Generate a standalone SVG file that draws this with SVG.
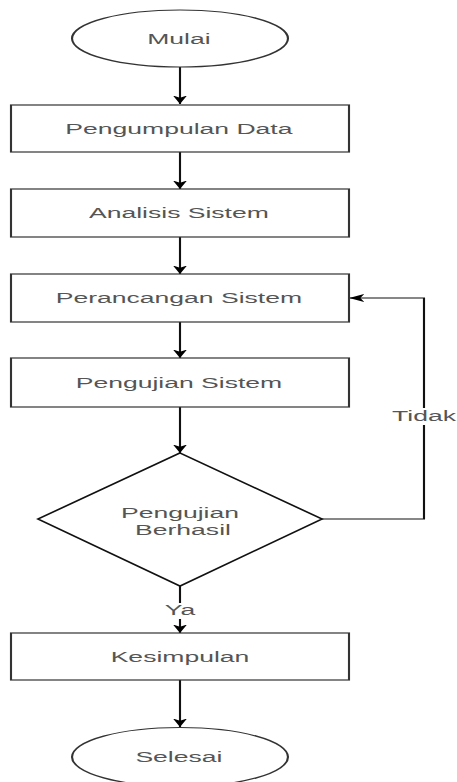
<svg xmlns="http://www.w3.org/2000/svg" width="457" height="782" viewBox="0 0 457 782">
<defs>
<marker id="arr" markerWidth="10" markerHeight="9" refX="8.5" refY="4" orient="auto" markerUnits="userSpaceOnUse">
<path d="M0,0 L8.5,4 L0,8 L2.2,4 Z" fill="#000"/>
</marker>
<style>
.shape{fill:#fff;stroke:#333;stroke-width:1.2}
.edge{fill:none;stroke:#111;stroke-width:1.2}
.lbl{font-family:"Liberation Sans",Arial,sans-serif;font-size:15px;fill:#555;text-anchor:middle}
</style>
</defs>
<rect width="457" height="782" fill="#fff"/>
<g transform="matrix(1.77 0 0 1 -138.6 0)">
<g id="connectors">
<line class="edge" x1="180" y1="67" x2="180" y2="104" marker-end="url(#arr)"/>
<line class="edge" x1="180" y1="152" x2="180" y2="189" marker-end="url(#arr)"/>
<line class="edge" x1="180" y1="237" x2="180" y2="274" marker-end="url(#arr)"/>
<line class="edge" x1="180" y1="322" x2="180" y2="358" marker-end="url(#arr)"/>
<line class="edge" x1="180" y1="407" x2="180" y2="453" marker-end="url(#arr)"/>
<polyline class="edge" points="260.23,519 317.85,519 317.85,298 275.6,298" marker-end="url(#arr)"/>
<line class="edge" x1="180" y1="586" x2="180" y2="633" marker-end="url(#arr)"/>
<line class="edge" x1="180" y1="680" x2="180" y2="727" marker-end="url(#arr)"/>
<rect x="301.4" y="408" width="35" height="17" fill="#fff"/>
<text class="lbl" x="317.85" y="421">Tidak</text>
<rect x="171" y="603" width="18" height="16" fill="#fff"/>
<text class="lbl" x="180" y="615.5">Ya</text>
</g>
<g id="mulai">
<ellipse class="shape" cx="180" cy="38.5" rx="61" ry="28.5"/>
<text class="lbl" x="179.4" y="44">Mulai</text>
</g>
<g id="pengumpulan">
<rect class="shape" x="84.52" y="105" width="190.96" height="47"/>
<text class="lbl" x="179.4" y="134.5">Pengumpulan Data</text>
</g>
<g id="analisis">
<rect class="shape" x="84.52" y="189" width="190.96" height="48"/>
<text class="lbl" x="179.4" y="218.5">Analisis Sistem</text>
</g>
<g id="perancangan">
<rect class="shape" x="84.52" y="274" width="190.96" height="48"/>
<text class="lbl" x="179.4" y="303.5">Perancangan Sistem</text>
</g>
<g id="pengujian">
<rect class="shape" x="84.52" y="358" width="190.96" height="49"/>
<text class="lbl" x="179.4" y="388">Pengujian Sistem</text>
</g>
<g id="keputusan">
<polygon class="shape" points="180,453 260.23,519 180,586 99.77,519" style="stroke:#111;stroke-width:1.4"/>
<text class="lbl" x="180" y="518">Pengujian</text>
<text class="lbl" x="181.7" y="535">Berhasil</text>
</g>
<g id="kesimpulan">
<rect class="shape" x="84.52" y="633" width="190.96" height="47"/>
<text class="lbl" x="180" y="662.5">Kesimpulan</text>
</g>
<g id="selesai">
<ellipse class="shape" cx="180" cy="757" rx="61" ry="29.5"/>
<text class="lbl" x="179.4" y="762">Selesai</text>
</g>
</g>
</svg>
